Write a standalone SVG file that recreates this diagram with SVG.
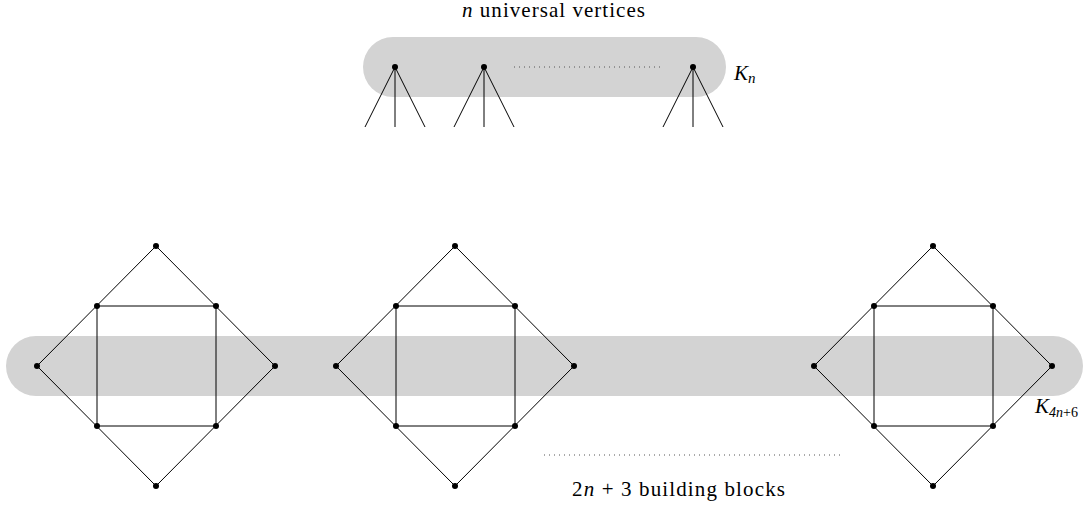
<svg xmlns="http://www.w3.org/2000/svg" width="1091" height="505" viewBox="0 0 1091 505">
<defs>
<style>
.band{fill:#d3d3d3}
.e{stroke:#000;stroke-width:1;fill:none}
.dot{stroke:#555;stroke-width:1;stroke-dasharray:1 4;fill:none}
.v{fill:#000}
.t{font-family:"Liberation Serif",serif;font-size:21px;fill:#000}
</style>
<g id="block">
<path class="e" d="M0,0 L-119,120 L0,240 L119,120 Z M-59,60 H60 V180 H-59 Z"/>
<circle class="v" cx="0" cy="0" r="3"/>
<circle class="v" cx="-59" cy="60" r="3"/>
<circle class="v" cx="60" cy="60" r="3"/>
<circle class="v" cx="-119" cy="120" r="3"/>
<circle class="v" cx="119" cy="120" r="3"/>
<circle class="v" cx="-59" cy="180" r="3"/>
<circle class="v" cx="60" cy="180" r="3"/>
<circle class="v" cx="0" cy="240" r="3"/>
</g>
<g id="fan">
<path class="e" d="M0,0 L-30,60 M0,0 V60 M0,0 L30,60"/>
<circle class="v" cx="0" cy="0" r="3"/>
</g>
</defs>
<g id="bands">
<rect class="band" x="363" y="37" width="363" height="60" rx="30"/>
<rect class="band" x="6" y="336" width="1077" height="60" rx="30"/>
</g>
<g id="connectors">
<line class="dot" x1="514" y1="67" x2="660" y2="67"/>
<line class="dot" x1="544" y1="455" x2="840" y2="455"/>
</g>
<g id="universal">
<use href="#fan" x="395" y="67"/>
<use href="#fan" x="484" y="67"/>
<use href="#fan" x="693" y="67"/>
</g>
<g id="block1"><use href="#block" x="156" y="246"/></g>
<g id="block2"><use href="#block" x="455" y="246"/></g>
<g id="block3"><use href="#block" x="933" y="246"/></g>
<g id="labels">
<text class="t" x="462" y="17" textLength="183" lengthAdjust="spacing"><tspan font-style="italic">n</tspan> universal vertices</text>
<text class="t" x="734" y="80"><tspan font-style="italic">K</tspan><tspan font-style="italic" font-size="15" dy="3">n</tspan></text>
<text class="t" x="1035" y="413"><tspan font-style="italic">K</tspan><tspan font-size="14" dy="4"><tspan font-style="italic">4n</tspan>+6</tspan></text>
<text class="t" x="572" y="496" textLength="213" lengthAdjust="spacing">2<tspan font-style="italic">n</tspan> + 3 building blocks</text>
</g>
</svg>
